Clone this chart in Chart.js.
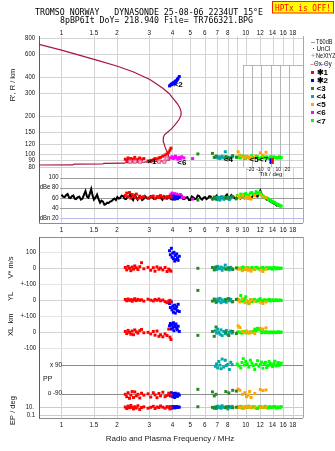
<!DOCTYPE html>
<html>
<head>
<meta charset="utf-8">
<title>Dynasonde ionogram – Tromso</title>
<script src="https://cdn.jsdelivr.net/npm/chart.js@4.4.1/dist/chart.umd.min.js"></script>
<style>
  html, body { margin: 0; padding: 0; background: #ffffff; }
  canvas { display: block; }
</style>
</head>
<body>
<canvas id="iono" width="335" height="451"></canvas>
<script>
// ---------------- axes ----------------
// frequency (MHz, log)
const freqMin = 0.755, freqMax = 20.47;
const freqGrid = [1, 1.5, 2, 3, 4, 5, 6, 7, 8, 9, 10, 12, 14, 16, 18];
const freqLabelsTop = ['1', '1.5', '2', '3', '4', '5', '6', '7', '8', '10', '12', '14', '16', '18'];
const freqLabelsMid = ['1', '1.5', '2', '3', '4', '5', '6', '7', '8', '9', '10', '12', '14', '16', '18'];
const freqLabelsBottom = ['1', '1.5', '2', '3', '4', '5', '6', '7', '8', '10', '12', '14', '16', '18'];

// virtual / real height (km, log) – range spans the whole plotting column
const heightMin = 0.9066, heightMax = 829;
const heightTicks = [80, 90, 100, 120, 150, 200, 300, 400, 600, 800];

// echo amplitude (dB)
const dbMin = -378.6, dbMax = 381.6;
const dbTicks = [100, 80, 60, 40, 20];
const dbTickText = ['100', 'dBe 80', '60', '40', 'dBn 20'];
const dbFloor = 10;

// lower block: V*, YL, XL, PP and EP rows share one linear axis
const lowMin = -935.6, lowMax = 1451.9, lowCeil = 195;
const ylRow = -200, xlRow = -400, ppCentre = -692.5, epRow = -869, epDecade = 25;

// tilt inset (deg)
const tiltMin = -251.6, tiltMax = 35.3;
const tiltTicks = [-30, -20, -10, 0, 10, 20];
const tiltLabels = [-20, -10, 0, 10, 20];
const tiltBoxTop = 495;

// ---------------- data ----------------
// real-height profile
const profileFreq = [0.755, 1.15, 1.17, 1.68, 1.70, 2.20, 2.25, 2.80, 3.30, 3.70, 3.88, 3.84, 3.76, 3.66, 3.58, 3.57, 3.62, 3.75, 3.95, 4.13, 4.33, 4.45, 4.46, 4.40, 4.28, 4.10, 3.96, 3.85, 3.55, 3.02, 2.445, 1.994, 1.553, 1.0, 0.755];
const profileHeight = [82.9, 83.0, 84.2, 84.4, 85.4, 85.6, 86.6, 87.2, 88.5, 89.5, 90.6, 95, 103, 113, 125, 135, 142, 148, 158, 170, 185, 200, 214, 228, 245, 265, 281, 296, 326, 382, 438, 485, 539, 645, 714];

// receiver amplitude trace
const ampFreq = [1.00, 1.02, 1.04, 1.06, 1.08, 1.10, 1.12, 1.14, 1.16, 1.18, 1.20, 1.225, 1.25, 1.275, 1.30, 1.325, 1.35, 1.375, 1.40, 1.425,
  1.45, 1.475, 1.50, 1.53, 1.56, 1.59, 1.62, 1.65, 1.68, 1.71, 1.74, 1.77, 1.80, 1.835, 1.87, 1.905, 1.94, 1.975, 2.01, 2.045,
  2.08, 2.12, 2.16, 2.20, 2.24, 2.28, 2.32, 2.36, 2.41, 2.45, 2.50, 2.55, 2.59, 2.64, 2.69, 2.74, 2.79, 2.84, 2.89, 2.95,
  3.00, 3.05, 3.11, 3.17, 3.23, 3.29, 3.35, 3.41, 3.47, 3.53, 3.60, 3.67, 3.74, 3.81, 3.88, 3.95, 4.02, 4.10, 4.17, 4.25,
  4.33, 4.41, 4.49, 4.57, 4.66, 4.74, 4.83, 4.92, 5.01, 5.10, 5.20, 5.30, 5.39, 5.49, 5.59, 5.70, 5.80, 5.91, 6.02, 6.13,
  6.24, 6.35, 6.47, 6.59, 6.71, 6.83, 6.96, 7.09, 7.22, 7.35, 7.49, 7.63, 7.77, 7.91, 8.06, 8.21, 8.36, 8.51, 8.67, 8.83,
  9.00, 9.16, 9.33, 9.50, 9.68, 9.86, 10.04, 10.22, 10.4, 10.6, 10.8, 11.0, 11.2, 11.4, 11.6, 11.8, 12.0, 12.25, 12.5, 12.75,
  13.0, 13.25, 13.5, 13.75, 14.0, 14.25, 14.5, 14.75, 15.0, 15.25, 15.5];
const ampDb = [66, 62, 61, 65, 67, 60, 59, 63, 64, 58, 57, 61, 62, 56, 58, 66, 73, 62, 60, 68,
  77, 64, 56, 60, 66, 57, 50, 54, 52, 46, 47, 50, 49, 52, 53, 56, 58, 55, 61, 58,
  59, 64, 63, 58, 57, 61, 62, 66, 58, 55, 64, 60, 56, 62, 61, 55, 57, 63, 60, 58,
  58, 63, 62, 57, 57, 60, 61, 64, 59, 56, 63, 60, 58, 62, 60, 57, 56, 61, 62, 58,
  59, 63, 64, 57, 57, 60, 61, 55, 55, 62, 60, 57, 58, 64, 63, 58, 56, 60, 61, 57,
  59, 63, 62, 56, 57, 61, 64, 60, 58, 62, 61, 57, 63, 66, 59, 60, 65, 62, 60, 57,
  63, 60, 58, 64, 66, 59, 61, 65, 64, 58, 60, 66, 67, 63, 62, 68, 74, 66, 61, 59,
  56, 57, 53, 51, 50, 48, 47, 44, 45, 43, 42];

// mode *1 (O, E-region)
const m1Freq = [2.22, 2.26, 2.30, 2.34, 2.38, 2.42, 2.46, 2.50, 2.55, 2.60, 2.66, 2.72, 2.80, 2.95, 3.05, 3.15, 3.22, 3.30, 3.38, 3.45, 3.55, 3.65, 3.74, 3.82, 3.88, 3.93];
const m1Height = [92, 90, 94, 91, 93, 89, 92, 95, 90, 92, 94, 91, 93, 89, 90, 91, 93, 92, 94, 95, 97, 99, 101, 104, 108, 112];
const m1Amp = [64, 69, 62, 70, 59, 66, 63, 61, 67, 58, 63, 60, 62, 59, 61, 63, 58, 62, 60, 64, 61, 59, 62, 60, 63, 61];
const m1Vel = [5, -10, 12, 0, -15, 8, -5, 15, 3, -8, 10, 35, -3, 6, -12, 4, -18, 9, -6, 2, -10, 5, -20, -5, -12, -18];
const m1YL = [5, -3, 8, 0, 4, -6, 2, 10, -2, 6, 0, 3, -5, 7, 1, -4, 5, 0, 8, -3, 2, -8, -15, -5, 0, -10];
const m1XL = [5, -8, 12, 0, -12, 8, -15, 15, 3, -5, 10, 18, -3, 0, -10, 5, -18, 8, -25, -15, -28, -10, -20, 20, -30, -45];
const m1PP = [-95, -110, -85, -120, -100, -78, -115, -80, -105, -95, -118, -88, -100, -92, -112, -85, -98, -116, -90, -105, -82, -110, -102, -88, -95, -100];
const m1EP = [12, 5, 20, 8, 30, 10, 4, 14, 7, 25, 3, 9, 13, 6, 10, 18, 5, 12, 9, 22, 11, 6, 15, 10, 4, 12];

// mode *2 (O, F-region)
const m2Freq = [3.86, 3.90, 3.95, 3.98, 4.02, 4.05, 4.08, 4.12, 4.15, 4.18, 4.22, 4.26, 4.30, 4.36];
const m2Height = [340, 345, 352, 348, 356, 360, 355, 364, 370, 366, 375, 382, 390, 402];
const m2Amp = [60, 62, 58, 61, 59, 63, 60, 57, 61, 59, 62, 58, 60, 61];
const m2Vel = [110, 85, 125, 70, 95, 60, 100, 45, 80, 55, 90, 65, 50, 75];
const m2YL = [-20, -45, -10, -60, -35, -75, -50, -30, -80, -55, -40, -65, -25, -70];
const m2XL = [40, 55, 20, 48, 30, 60, 10, 45, 35, 52, 25, 15, 38, 5];
const m2PP = [-95, -105, -85, -100, -110, -90, -98, -115, -88, -102, -95, -108, -92, -100];
const m2EP = [10, 14, 6, 12, 9, 16, 11, 7, 13, 10, 15, 9, 12, 11];

// mode <3
const m3Freq = [5.5, 6.6, 6.75, 6.9, 7.8, 8.1, 8.5, 8.9];
const m3Height = [101, 102, 95, 97, 96, 94, 98, 95];
const m3Amp = [55, 58, 61, 57, 60, 59, 62, 58];
const m3Vel = [0, 5, -10, 8, -5, 3, -8, 2];
const m3YL = [62, -5, 8, -12, 3, 10, -8, 5];
const m3XL = [-19, 5, -25, 33, 0, -20, 5, -8];
const m3PP = [-64, -80, -105, -95, -78, -86, -70, -75];
const m3EP = [14, 10, 6, 12, 9, 15, 8, 11];

// mode <4
const m4Freq = [6.85, 6.95, 7.05, 7.15, 7.25, 7.35, 7.45, 7.6, 7.75, 7.85, 8.0, 8.15, 8.3, 8.45];
const m4Height = [95, 97, 94, 96, 93, 95, 97, 94, 105, 96, 93, 95, 94, 96];
const m4Amp = [58, 61, 56, 60, 55, 59, 62, 57, 60, 58, 61, 56, 59, 62];
const m4Vel = [5, -8, 12, -3, 0, 8, -12, 3, 20, -5, 2, -10, 6, -2];
const m4YL = [0, -10, 8, -5, 12, -15, 3, -8, 5, -12, 10, -3, 6, -10];
const m4XL = [10, -5, 20, 0, -12, 15, -20, 5, -8, 12, -15, 0, 8, -5];
const m4PP = [80, 95, 70, 110, 88, 65, 125, 75, 118, 85, 92, 60, 105, 90];
const m4EP = [11, 5, 20, 9, 14, 6, 25, 10, 8, 16, 4, 12, 9, 18];

// mode <5
const m5Freq = [9.1, 9.3, 9.6, 9.9, 10.1, 10.3, 10.5, 10.7, 11.2, 12.0, 12.4, 12.9];
const m5Height = [105, 99, 96, 94, 97, 95, 93, 96, 95, 103, 99, 104];
const m5Amp = [63, 60, 65, 59, 62, 58, 61, 57, 64, 66, 62, 60];
const m5Vel = [-5, 0, -15, -8, 2, -12, -3, -18, -6, -10, -20, -4];
const m5YL = [5, -10, 10, -15, 0, -8, -18, 3, -5, -12, -20, -10];
const m5XL = [40, 30, 5, -3, 8, 0, -5, 2, -8, 25, 20, 28];
const m5PP = [-62, -70, -95, -85, -110, -100, -78, -115, -90, -65, -72, -68];
const m5EP = [10, 9, 12, 8, 11, 14, 9, 10, 12, 9, 11, 10];

// mode <6
const m6Freq = [3.92, 3.98, 4.05, 4.10, 4.16, 4.22, 4.28, 4.35, 4.42, 4.50, 4.62, 5.15];
const m6Height = [94, 96, 93, 95, 97, 94, 92, 95, 93, 96, 94, 93];
const m6Amp = [66, 69, 64, 68, 62, 67, 65, 63, 66, 61, 60, 57];

// mode <7
const m7Freq = [9.0, 9.2, 9.4, 9.55, 9.7, 9.85, 10.0, 10.2, 10.4, 10.6, 10.8, 11.0, 11.2, 11.4, 11.6, 11.8, 12.0, 12.2, 12.4, 12.6, 12.8, 13.0, 13.2, 13.4, 13.6, 13.8, 14.0, 14.2, 14.4, 14.6, 14.8, 15.0, 15.2, 15.4, 15.6];
const m7Height = [96, 95, 94, 97, 97, 93, 93, 96, 95, 94, 98, 95, 94, 97, 96, 93, 93, 95, 97, 94, 95, 96, 94, 93, 96, 95, 93, 96, 95, 94, 94, 95, 96, 94, 95];
const m7Amp = [64, 60, 67, 63, 62, 66, 68, 64, 65, 69, 70, 67, 66, 72, 69, 68, 71, 66, 63, 61, 60, 59, 58, 56, 55, 53, 52, 51, 50, 48, 47, 46, 45, 44, 43];
const m7Vel = [3, -2, -5, 4, 8, -6, -2, 5, 0, -4, 5, 2, -8, 6, 2, -3, -4, 3, 6, -5, 0, 4, -3, 2, 4, -2, -6, 5, 1, -3, 3, 0, -2, 2, 0];
const m7YL = [8, 2, 30, -4, -5, 6, 22, -10, -21, 4, -8, 2, 5, -6, -3, 4, 10, -2, -6, 3, 2, -3, 0, 5, -4, 1, 3, -2, -2, 4, 0, -1, 1, 2, -1];
const m7XL = [0, 3, -3, -5, 2, 4, 5, -4, -2, 3, 0, 6, 20, 10, 25, 18, 15, -3, 3, 2, -2, 4, 0, -3, 2, 1, -3, 2, 0, -2, 1, 3, -1, 2, 0];
const m7PP = [95, 82, 70, 104, 128, 88, 110, 96, 75, 118, 100, 84, 60, 92, 115, 80, 92, 106, 68, 94, 105, 72, 85, 110, 98, 88, 78, 96, 112, 82, 90, 104, 86, 95, 100];
const m7EP = [10, 14, 18, 7, 6, 12, 14, 9, 20, 11, 8, 15, 12, 6, 5, 13, 16, 10, 9, 12, 18, 8, 7, 14, 13, 10, 10, 15, 16, 8, 7, 12, 11, 9, 15];

// NeXtYZ markers
const nextFreq = [2.36, 2.50, 2.67, 3.39, 3.62, 3.72];
const nextHeight = [88, 88, 88, 88, 88, 93];

// tilt estimates
const tiltAngleO = [2.5, 2.5, 2.5, 2.5];
const tiltHeightO = [86, 88, 90, 92];
const tiltAngleX = [0, 0, 0, 0];
const tiltHeightX = [86, 88, 90, 92];

// mode tags written on the height panel
const tagText = ['\u00d71', '\u00d72', '<6', '<4', '<5', '<7'];
const tagFreq = [3.1, 4.3, 4.5, 8.05, 11.1, 12.5];
const tagHeight = [88.4, 346, 85.6, 90.5, 90.5, 90.5];

const modes = [
  { label: '\u27311', color: '#ff0000', freq: m1Freq, height: m1Height, amp: m1Amp, vel: m1Vel, yl: m1YL, xl: m1XL, pp: m1PP, ep: m1EP },
  { label: '\u27312', color: '#0000ff', freq: m2Freq, height: m2Height, amp: m2Amp, vel: m2Vel, yl: m2YL, xl: m2XL, pp: m2PP, ep: m2EP },
  { label: '<3', color: '#1e8c1e', freq: m3Freq, height: m3Height, amp: m3Amp, vel: m3Vel, yl: m3YL, xl: m3XL, pp: m3PP, ep: m3EP },
  { label: '<4', color: '#00a8a8', freq: m4Freq, height: m4Height, amp: m4Amp, vel: m4Vel, yl: m4YL, xl: m4XL, pp: m4PP, ep: m4EP },
  { label: '<5', color: '#ffa500', freq: m5Freq, height: m5Height, amp: m5Amp, vel: m5Vel, yl: m5YL, xl: m5XL, pp: m5PP, ep: m5EP },
  { label: '<6', color: '#ff00ff', freq: m6Freq, height: m6Height, amp: m6Amp },
  { label: '<7', color: '#00ff00', freq: m7Freq, height: m7Height, amp: m7Amp, vel: m7Vel, yl: m7YL, xl: m7XL, pp: m7PP, ep: m7EP }
];

// ---------------- datasets ----------------
function points(xs, values, place) {
  const out = [];
  if (!values) return out;
  xs.forEach((x, i) => {
    const v = values[i];
    if (v == null) return;
    out.push({ x: x, y: place ? place(v) : v });
  });
  return out;
}
function echoSet(color, axis, data) {
  return {
    data: data, yAxisID: axis,
    pointStyle: 'rect', pointRadius: 2.1, pointBorderWidth: 0,
    pointBackgroundColor: color, backgroundColor: color, borderColor: color,
    order: 1
  };
}

const datasets = [];
datasets.push({
  data: points(profileFreq, profileHeight), yAxisID: 'y', showLine: true,
  borderColor: '#a8143e', borderWidth: 1.2, pointRadius: 0, order: 4
});
datasets.push({
  data: points(ampFreq, ampDb), yAxisID: 'yD', showLine: true,
  borderColor: '#000000', borderWidth: 2, pointRadius: 0, order: 6
});
modes.forEach(m => {
  const rows = [
    ['y', points(m.freq, m.height)],
    ['yD', points(m.freq, m.amp)],
    ['yL', points(m.freq, m.vel)],
    ['yL', points(m.freq, m.yl, v => ylRow + v)],
    ['yL', points(m.freq, m.xl, v => xlRow + v)],
    ['yL', points(m.freq, m.pp, v => ppCentre + v)],
    ['yL', points(m.freq, m.ep, v => epRow + epDecade * Math.log10(v / 10))]
  ];
  rows.forEach(([axis, data]) => { if (data.length) datasets.push(echoSet(m.color, axis, data)); });
});
datasets.push({
  data: points(nextFreq, nextHeight), yAxisID: 'y',
  pointStyle: 'rect', pointRadius: 2.3, pointBorderWidth: 1,
  pointBackgroundColor: '#f6b3cf', pointBorderColor: '#e2588f', order: 0
});
datasets.push({
  data: points(tiltAngleO, tiltHeightO), xAxisID: 'xT', yAxisID: 'y',
  pointStyle: 'rect', pointRadius: 1.4, pointBorderWidth: 0, pointBackgroundColor: '#ff0000', order: 0
});
datasets.push({
  data: points(tiltAngleX, tiltHeightX), xAxisID: 'xT', yAxisID: 'y',
  pointStyle: 'rect', pointRadius: 1.4, pointBorderWidth: 0, pointBackgroundColor: '#0000ff', order: 0
});

// ---------------- frame, labels, legend ----------------
const GRID = '#d3d3d3', FRAME = '#8e8e8e', AXIS = '#5c5c5c';
const SANS = '"Liberation Sans", Arial, sans-serif';
const MONO = '"DejaVu Sans Mono", "Liberation Mono", monospace';

function hLine(ctx, y, x1, x2, color) {
  const yy = Math.round(y) + 0.5;
  ctx.strokeStyle = color; ctx.beginPath(); ctx.moveTo(x1, yy); ctx.lineTo(x2, yy); ctx.stroke();
}
function vLine(ctx, x, y1, y2, color) {
  const xx = Math.round(x) + 0.5;
  ctx.strokeStyle = color; ctx.beginPath(); ctx.moveTo(xx, y1); ctx.lineTo(xx, y2); ctx.stroke();
}
function txt(ctx, s, x, y, o) {
  o = o || {};
  ctx.save();
  ctx.font = o.font || ('7px ' + SANS);
  ctx.fillStyle = o.color || '#111111';
  ctx.textAlign = o.align || 'center';
  ctx.textBaseline = o.base || 'middle';
  ctx.translate(x, y);
  if (o.rot) ctx.rotate(o.rot);
  let sx = o.sx || 1;
  if (o.width) sx = o.width / ctx.measureText(s).width;
  ctx.scale(sx, 1);
  ctx.fillText(s, 0, 0);
  ctx.restore();
}

const ionoFrame = {
  id: 'ionoFrame',
  beforeDatasetsDraw(chart) {
    const { ctx, chartArea: a, scales: s } = chart;
    const X = s.x, R = s.y, D = s.yD, L = s.yL, T = s.xT;
    const yDbEnd = D.getPixelForValue(dbFloor);
    const yLowTop = L.getPixelForValue(lowCeil);
    ctx.save();
    ctx.lineWidth = 1;

    // frequency grid, interrupted by the middle scale row
    freqGrid.forEach(f => {
      const x = X.getPixelForValue(f);
      vLine(ctx, x, a.top, yDbEnd, GRID);
      vLine(ctx, x, yLowTop, a.bottom, GRID);
    });
    // height grid
    heightTicks.forEach(t => hLine(ctx, R.getPixelForValue(t), a.left, a.right, GRID));

    // tilt inset
    const tTop = R.getPixelForValue(tiltBoxTop), tBot = R.getPixelForValue(heightTicks[0]);
    const tl = T.getPixelForValue(tiltTicks[0]);
    ctx.fillStyle = '#ffffff';
    ctx.fillRect(Math.round(tl), Math.round(tTop), a.right - Math.round(tl), tBot - tTop);
    heightTicks.forEach(t => { const y = R.getPixelForValue(t); if (y > tTop) hLine(ctx, y, tl, a.right, GRID); });
    tiltTicks.forEach(t => vLine(ctx, T.getPixelForValue(t), tTop, tBot, '#b4b4b4'));
    hLine(ctx, tTop, tl, a.right, '#b4b4b4');

    // amplitude panel
    dbTicks.forEach(t => hLine(ctx, D.getPixelForValue(t), a.left + 21, a.right, t === 20 ? '#b7bbee' : '#9c9c9c'));
    hLine(ctx, yDbEnd, a.left, a.right, FRAME);

    // lower block
    hLine(ctx, yLowTop, a.left, a.right, FRAME);
    [100, -100, -300, -500].forEach(u => hLine(ctx, L.getPixelForValue(u), a.left, a.right, '#e4e4e4'));
    [0, ylRow, xlRow].forEach(u => hLine(ctx, L.getPixelForValue(u), a.left, a.right, GRID));
    hLine(ctx, L.getPixelForValue(ppCentre + 90), a.left + 23, a.right, '#8a8a8a');
    hLine(ctx, L.getPixelForValue(ppCentre - 90), a.left + 23, a.right, '#8a8a8a');
    hLine(ctx, L.getPixelForValue(epRow), a.left, a.right, '#cccccc');
    hLine(ctx, L.getPixelForValue(epRow - 2 * epDecade), a.left, a.right, '#cccccc');
    hLine(ctx, a.bottom, a.left, a.right, FRAME);

    // side frame
    vLine(ctx, a.left, a.top, yDbEnd, AXIS);
    vLine(ctx, a.left, yLowTop, a.bottom + 0.5, AXIS);
    vLine(ctx, a.right, a.top, yDbEnd, '#a8a8a8');
    vLine(ctx, a.right, yLowTop, a.bottom, '#a8a8a8');
    ctx.restore();
  },

  afterDatasetsDraw(chart) {
    const { ctx, chartArea: a, scales: s } = chart;
    const X = s.x, R = s.y, D = s.yD, L = s.yL, T = s.xT;
    const yDbEnd = D.getPixelForValue(dbFloor);
    const yLowTop = L.getPixelForValue(lowCeil);
    const tick = '7px ' + SANS;

    // frequency scale rows
    const row = (labels, y) => labels.forEach(l => txt(ctx, l, X.getPixelForValue(parseFloat(l)), y, { font: tick, sx: 0.9 }));
    row(freqLabelsTop, a.top - 3);
    row(freqLabelsMid, (yDbEnd + yLowTop) / 2 + 0.5);
    row(freqLabelsBottom, a.bottom + 7);
    txt(ctx, 'Radio and Plasma Frequency / MHz', 170, a.bottom + 21, { font: '8px ' + SANS, color: '#222' });

    // height scale
    heightTicks.forEach(t => txt(ctx, String(t), a.left - 4, R.getPixelForValue(t), { font: tick, align: 'right', sx: 0.85 }));
    txt(ctx, "R', R / km", 12.5, 85, { font: '7.5px ' + SANS, rot: -Math.PI / 2 });

    // tilt inset labels
    tiltLabels.forEach(t => txt(ctx, String(t), T.getPixelForValue(t) - 1.5, 169.5, { font: '6px ' + SANS, sx: 0.85 }));
    txt(ctx, 'Tilt / deg', T.getPixelForValue(0) + 0.5, 174.5, { font: '6px ' + SANS });

    // amplitude scale
    dbTicks.forEach((t, i) => txt(ctx, dbTickText[i], a.left + 19.5, D.getPixelForValue(t), { font: tick, align: 'right', sx: 0.85 }));

    // lower block scale
    const lowTicks = [[100, '100'], [0, '0'], [-100, '+-100'], [ylRow, '0'], [-300, '+-100'], [xlRow, '0'], [-500, '-100']];
    lowTicks.forEach(([u, l]) => txt(ctx, l, a.left - 3, L.getPixelForValue(u), { font: tick, align: 'right', sx: 0.85 }));
    txt(ctx, 'x 90', a.left + 23, L.getPixelForValue(ppCentre + 90), { font: tick, align: 'right', sx: 0.9 });
    txt(ctx, 'PP', a.left + 4, L.getPixelForValue(ppCentre), { font: tick, align: 'left' });
    txt(ctx, 'o -90', a.left + 23, L.getPixelForValue(ppCentre - 90), { font: tick, align: 'right', sx: 0.9 });
    txt(ctx, '10.', a.left - 5, L.getPixelForValue(epRow), { font: tick, align: 'right', sx: 0.85 });
    txt(ctx, '0.1', a.left - 4, L.getPixelForValue(epRow - 2 * epDecade), { font: tick, align: 'right', sx: 0.85 });
    const side = '7.5px ' + SANS;
    txt(ctx, 'V* m/s', 11, 267.5, { font: side, rot: -Math.PI / 2 });
    txt(ctx, 'YL', 11, 296.5, { font: side, rot: -Math.PI / 2 });
    txt(ctx, 'km', 11, 318.5, { font: side, rot: -Math.PI / 2 });
    txt(ctx, 'XL', 11, 331.5, { font: side, rot: -Math.PI / 2 });
    txt(ctx, 'EP / deg', 13, 410.5, { font: side, rot: -Math.PI / 2 });

    // mode tags
    tagText.forEach((t, i) => txt(ctx, t, X.getPixelForValue(tagFreq[i]), R.getPixelForValue(tagHeight[i]), { font: 'bold 8px ' + SANS, color: '#000' }));
  },

  afterDraw(chart) {
    const { ctx } = chart;
    // header
    txt(ctx, 'TROMSO NORWAY   DYNASONDE 25-08-06 2234UT 15\u00b0E', 35, 15.3, { font: '9px ' + MONO, align: 'left', base: 'alphabetic', width: 228, color: '#000' });
    txt(ctx, '8pBP6It DoY= 218.940 File= TR766321.BPG', 60, 23, { font: '9px ' + MONO, align: 'left', base: 'alphabetic', width: 193, color: '#000' });

    // transmitter warning
    ctx.save();
    ctx.fillStyle = '#ffff00'; ctx.fillRect(272, 2, 62, 11);
    ctx.strokeStyle = '#ff2000'; ctx.lineWidth = 1; ctx.strokeRect(272.5, 1.5, 61, 11.5);
    ctx.restore();
    txt(ctx, 'HPTx is OFF!', 275, 10.8, { font: '9px ' + MONO, align: 'left', base: 'alphabetic', width: 56, color: '#ff0000' });

    // legend
    const lf = '7px ' + SANS;
    ctx.save();
    ctx.lineWidth = 1;
    hLine(ctx, 41.5, 311, 315, '#9a9a9a');
    ctx.restore();
    txt(ctx, 'T60dB', 316, 42, { font: lf, align: 'left', sx: 0.8 });
    ctx.fillStyle = '#333'; ctx.fillRect(313, 48, 1, 1);
    txt(ctx, 'UnCl', 316.5, 49, { font: lf, align: 'left', sx: 0.9 });
    txt(ctx, '+', 313, 56, { font: '7px ' + SANS, color: '#e2588f' });
    txt(ctx, 'NeXtYZ', 316, 56, { font: lf, align: 'left', sx: 0.8 });
    ctx.save(); ctx.lineWidth = 1;
    hLine(ctx, 63.5, 310.5, 313.5, '#e88aa0');
    hLine(ctx, 63.5, 320.5, 323.5, '#8c8ce0');
    ctx.restore();
    txt(ctx, '\u0398x', 314, 64, { font: lf, align: 'left', sx: 0.85 });
    txt(ctx, '\u0398y', 324, 64, { font: lf, align: 'left', sx: 0.85 });
    modes.forEach((m, i) => {
      const y = 72.7 + 8.1 * i;
      ctx.fillStyle = m.color;
      ctx.fillRect(311, Math.round(y) - 2, 3, 3);
      txt(ctx, m.label, 316.5, y, { font: 'bold 8px ' + SANS, align: 'left', color: '#000' });
    });
  }
};

// ---------------- chart ----------------
new Chart(document.getElementById('iono'), {
  type: 'scatter',
  data: { datasets: datasets },
  options: {
    responsive: false,
    animation: false,
    events: [],
    layout: { padding: { left: 39, right: 32, top: 36, bottom: 33 } },
    plugins: { legend: { display: false }, tooltip: { enabled: false } },
    scales: {
      x: { type: 'logarithmic', min: freqMin, max: freqMax, bounds: 'data', display: false },
      xT: { type: 'linear', min: tiltMin, max: tiltMax, bounds: 'data', display: false },
      y: { type: 'logarithmic', min: heightMin, max: heightMax, bounds: 'data', display: false },
      yD: { type: 'linear', min: dbMin, max: dbMax, bounds: 'data', display: false },
      yL: { type: 'linear', min: lowMin, max: lowMax, bounds: 'data', display: false }
    }
  },
  plugins: [ionoFrame]
});
</script>
</body>
</html>
